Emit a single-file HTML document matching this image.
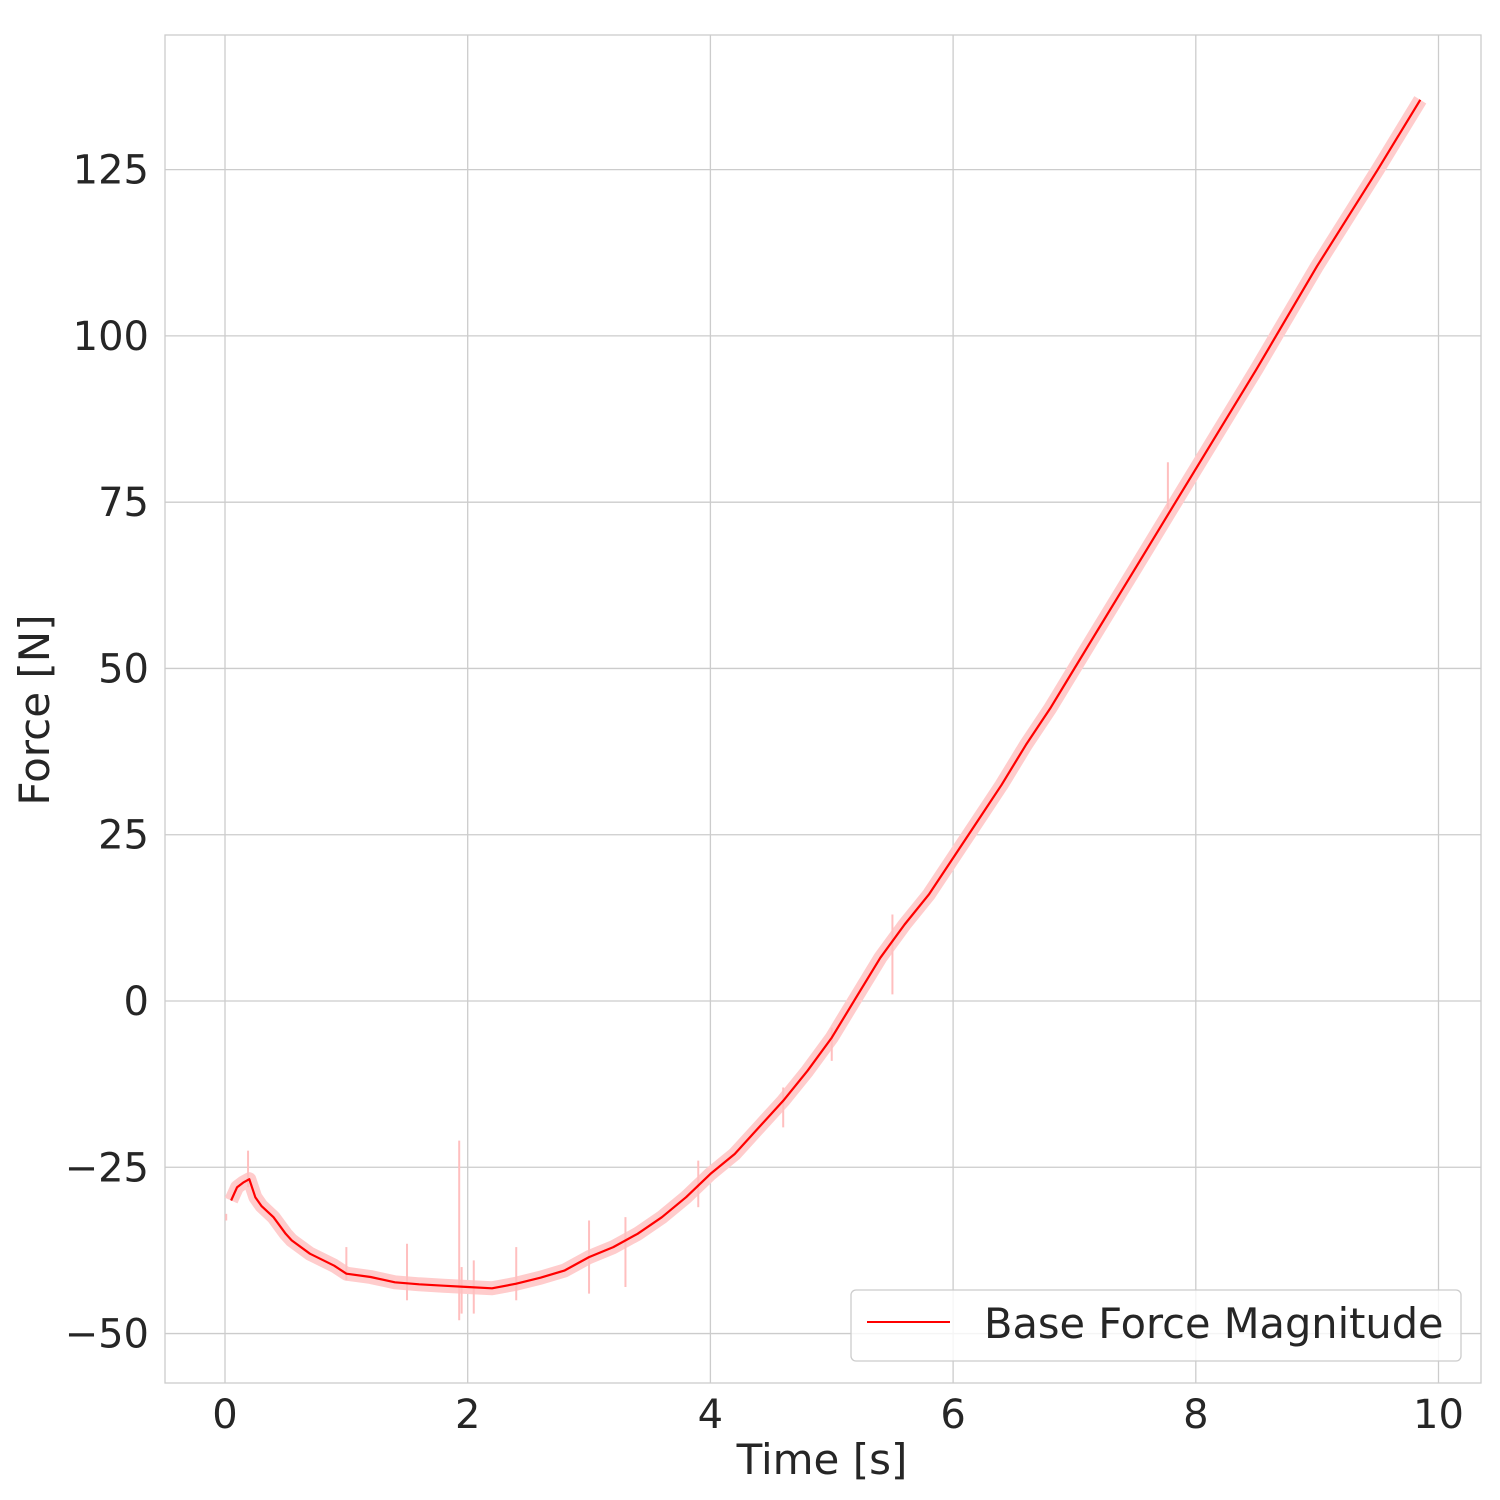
<!DOCTYPE html>
<html><head><meta charset="utf-8">
<style>
html,body{margin:0;padding:0;background:#fff;}
svg{display:block;font-family:"DejaVu Sans","Liberation Sans",sans-serif;}
</style></head>
<body>
<svg id="chart" width="1500" height="1500" viewBox="0 0 1500 1500" xmlns="http://www.w3.org/2000/svg">
<rect x="0" y="0" width="1500" height="1500" fill="#fff"/>
<g id="grid"></g>
<g id="band"></g>
<g id="line"></g>
<rect x="165" y="35" width="1316" height="1348" fill="none" stroke="#cccccc" stroke-width="1.3"/>
<g id="ticks" font-size="40" fill="#262626"></g>
<text x="822" y="1474" font-size="42" fill="#262626" text-anchor="middle">Time [s]</text>
<text transform="translate(49,710) rotate(-90)" font-size="42" fill="#262626" text-anchor="middle">Force [N]</text>
<g>
<rect x="851" y="1290" width="610" height="71" rx="5" fill="#fff" fill-opacity="0.8" stroke="#cccccc" stroke-width="1.3"/>
<line x1="867" y1="1322" x2="950" y2="1322" stroke="#ff0000" stroke-width="2"/>
<text x="984" y="1338" font-size="41.5" fill="#262626">Base Force Magnitude</text>
</g>
</svg>
<script>
const times=[0.05,0.1,0.15,0.2,0.25,0.3,0.4,0.5,0.55,0.7,0.9,1.0,1.2,1.4,1.6,1.8,2.0,2.2,2.4,2.6,2.8,3.0,3.2,3.4,3.6,3.8,4.0,4.2,4.4,4.6,4.8,5.0,5.2,5.4,5.6,5.8,6.0,6.2,6.4,6.6,6.8,7.0,7.2,7.4,7.6,7.8,8.0,8.5,9.0,9.5,9.85];
const forces=[-30,-28,-27.3,-26.8,-29.5,-30.8,-32.5,-35,-36,-38,-39.8,-41,-41.5,-42.3,-42.6,-42.8,-43,-43.2,-42.5,-41.6,-40.5,-38.5,-37,-35,-32.5,-29.5,-26,-23,-19,-15,-10.5,-5.5,0.5,6.5,11.5,16,21.5,27,32.5,38.5,44,50,56,62,68,74,80,95,110.5,125,135.5];
const spikeTimes=[0.01,0.19,1.0,1.5,1.93,1.95,2.05,2.4,3.0,3.3,3.9,4.6,5.0,5.5,7.77];
const spikeTops=[-32,-22.5,-37,-36.5,-21,-40,-39,-37,-33,-32.5,-24,-13,-4,13,81];
const spikeBottoms=[-33,-28,-42,-45,-48,-47,-47,-45,-44,-43,-31,-19,-9,1,74];
const xTicks=[0,2,4,6,8,10];
const yTicks=[-50,-25,0,25,50,75,100,125];
const yTickLabels=["\u221250","\u221225","0","25","50","75","100","125"];
const NS="http://www.w3.org/2000/svg";
function xs(t){return 225+(t-0)*121.35;}
function ys(f){return 1001-f*6.651;}
function mk(tag,attrs,parent){const e=document.createElementNS(NS,tag);for(const k in attrs)e.setAttribute(k,attrs[k]);parent.appendChild(e);return e;}
const grid=document.getElementById('grid'),ticks=document.getElementById('ticks');
xTicks.forEach(t=>{
 const l=mk('line',{x1:xs(t),x2:xs(t),y1:35,y2:1383,stroke:'#cccccc','stroke-width':1.3},grid);
 
 
 const tx=mk('text',{x:xs(t),y:1428,'text-anchor':'middle'},ticks);
 tx.textContent=String(t);
 
 
});
yTicks.forEach((f,i)=>{
 const l=mk('line',{x1:165,x2:1481,y1:ys(f),y2:ys(f),stroke:'#cccccc','stroke-width':1.3},grid);
 
 
 const tx=mk('text',{x:149,y:ys(f)+14,'text-anchor':'end'},ticks);
 tx.textContent=yTickLabels[i];
 
 
});
const d=times.map((t,i)=>(i?'L':'M')+xs(t).toFixed(1)+','+ys(forces[i]).toFixed(1)).join(' ');
const band=document.getElementById('band');
const bp=mk('path',{d:d,fill:'none',stroke:'#ffcccc','stroke-width':14,'stroke-linejoin':'round','stroke-linecap':'butt'},band);


spikeTimes.forEach((t,i)=>{
 const s=mk('line',{x1:xs(t),x2:xs(t),y1:ys(spikeTops[i]),y2:ys(spikeBottoms[i]),stroke:'#ffbfbf','stroke-width':2},band);
 
 
});
const lp=mk('path',{d:d,fill:'none',stroke:'#ff0000','stroke-width':2.2,'stroke-linejoin':'round'},document.getElementById('line'));


</script>
</body></html>
